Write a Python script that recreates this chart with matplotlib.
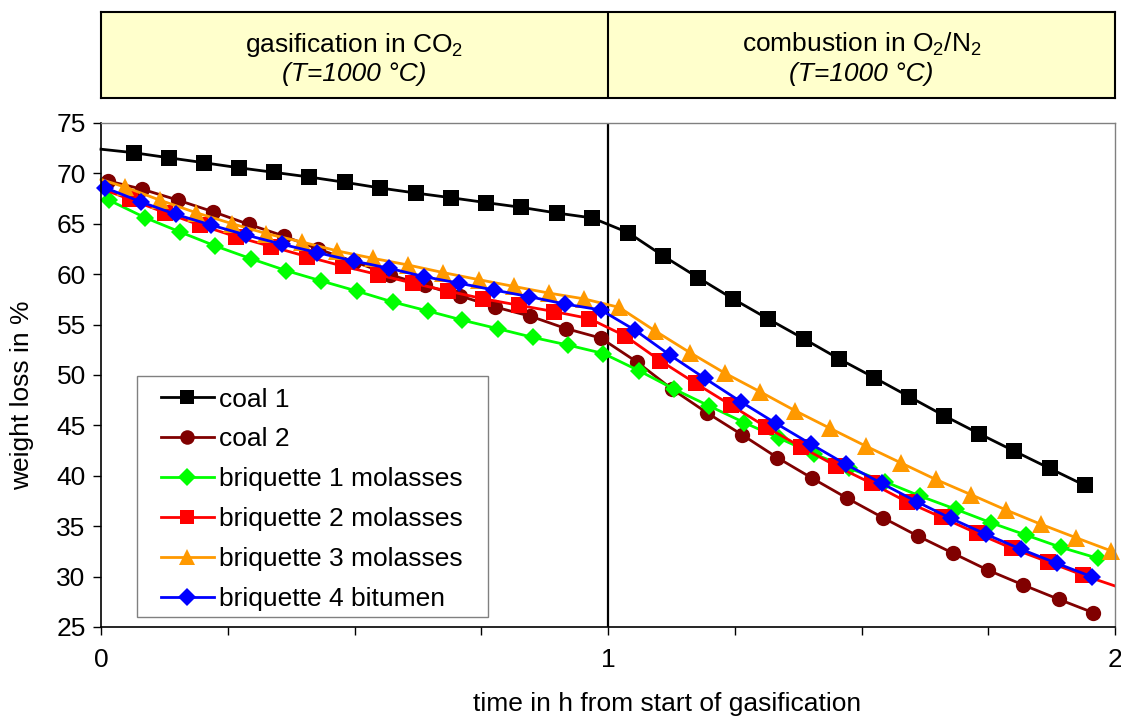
import matplotlib
matplotlib.use('Agg')
import matplotlib.pyplot as plt
from matplotlib.patches import Rectangle
from matplotlib.ticker import MultipleLocator

plt.rcParams['font.family'] = ['Liberation Sans', 'DejaVu Sans']
plt.rcParams['mathtext.default'] = 'regular'

# --- data (time in h, weight loss in %) ---
coal1_t = [0, 0.065, 0.134, 0.203, 0.272, 0.342, 0.411, 0.482, 0.551, 0.621, 0.690, 0.760, 0.829, 0.899, 0.969,
           1.040, 1.109, 1.178, 1.247, 1.316, 1.387, 1.455, 1.525, 1.594, 1.663, 1.732, 1.801, 1.871, 1.940]
coal1_v = [72.4, 72.05, 71.55, 71.06, 70.56, 70.10, 69.64, 69.11, 68.55, 68.05, 67.59, 67.10, 66.63, 66.07, 65.58,
           64.12, 61.81, 59.65, 57.54, 55.56, 53.57, 51.62, 49.74, 47.85, 45.96, 44.18, 42.46, 40.74, 39.06]

coal2_t = [0.014, 0.080, 0.151, 0.221, 0.291, 0.360, 0.428, 0.499, 0.570, 0.640, 0.708, 0.777, 0.847, 0.917, 0.986,
           1.058, 1.126, 1.195, 1.265, 1.334, 1.403, 1.472, 1.542, 1.611, 1.681, 1.749, 1.819, 1.889, 1.957]
coal2_v = [69.25, 68.45, 67.36, 66.20, 64.95, 63.80, 62.50, 61.25, 59.95, 58.88, 57.85, 56.75, 55.83, 54.61, 53.66,
           51.26, 48.61, 46.26, 44.05, 41.80, 39.75, 37.77, 35.85, 34.03, 32.31, 30.65, 29.17, 27.75, 26.42]

briq1_t = [0.015, 0.087, 0.156, 0.225, 0.295, 0.365, 0.434, 0.505, 0.575, 0.644, 0.713, 0.783, 0.852, 0.922, 0.991,
           1.061, 1.130, 1.200, 1.269, 1.338, 1.407, 1.476, 1.546, 1.615, 1.686, 1.755, 1.824, 1.893, 1.966]
briq1_v = [67.36, 65.61, 64.19, 62.81, 61.55, 60.36, 59.34, 58.32, 57.25, 56.36, 55.44, 54.59, 53.73, 52.96, 52.13,
           50.43, 48.61, 46.92, 45.27, 43.72, 42.16, 40.74, 39.42, 38.00, 36.68, 35.35, 34.13, 32.91, 31.82]

briq2_t = [0, 0.057, 0.126, 0.195, 0.266, 0.336, 0.406, 0.477, 0.547, 0.616, 0.685, 0.754, 0.824, 0.894, 0.963,
           1.034, 1.103, 1.173, 1.242, 1.311, 1.380, 1.450, 1.520, 1.589, 1.658, 1.728, 1.797, 1.867, 1.936, 2.0]
briq2_v = [68.5, 67.43, 66.11, 64.88, 63.73, 62.74, 61.75, 60.80, 59.95, 59.10, 58.32, 57.56, 56.92, 56.29, 55.60,
           53.87, 51.42, 49.17, 47.02, 44.87, 42.89, 40.97, 39.25, 37.43, 35.88, 34.29, 32.80, 31.48, 30.16, 29.07]

briq3_t = [0, 0.047, 0.117, 0.187, 0.258, 0.326, 0.396, 0.466, 0.536, 0.605, 0.675, 0.745, 0.814, 0.883, 0.952,
           1.022, 1.093, 1.162, 1.231, 1.300, 1.369, 1.438, 1.508, 1.577, 1.646, 1.716, 1.785, 1.854, 1.923, 1.993]
briq3_v = [69.4, 68.65, 67.33, 66.11, 65.02, 64.03, 63.20, 62.31, 61.58, 60.92, 60.16, 59.46, 58.79, 58.13, 57.56,
           56.71, 54.37, 52.21, 50.17, 48.34, 46.46, 44.71, 42.96, 41.30, 39.65, 38.13, 36.61, 35.19, 33.86, 32.54]

briq4_t = [0.008, 0.078, 0.147, 0.217, 0.286, 0.357, 0.426, 0.499, 0.569, 0.638, 0.707, 0.775, 0.845, 0.915, 0.986,
           1.053, 1.122, 1.191, 1.262, 1.331, 1.400, 1.469, 1.540, 1.609, 1.676, 1.746, 1.815, 1.885, 1.954]
briq4_v = [68.58, 67.19, 65.94, 64.88, 63.89, 62.97, 62.15, 61.30, 60.58, 59.75, 59.10, 58.43, 57.77, 57.04, 56.45,
           54.46, 51.98, 49.67, 47.35, 45.21, 43.15, 41.14, 39.25, 37.43, 35.78, 34.19, 32.71, 31.32, 29.99]

labels = ['coal 1', 'coal 2', 'briquette 1 molasses', 'briquette 2 molasses',
          'briquette 3 molasses', 'briquette 4 bitumen']
phases = ['gasification in CO$_2$', 'combustion in O$_2$/N$_2$']
phase_temp = '(T=1000 °C)'

series = [(coal1_t, coal1_v), (coal2_t, coal2_v), (briq1_t, briq1_v),
          (briq2_t, briq2_v), (briq3_t, briq3_v), (briq4_t, briq4_v)]
colors = ['#000000', '#800000', '#00FF00', '#FF0000', '#FF9900', '#0000FF']
markers = ['s', 'o', 'D', 's', '^', 'D']
msizes = [11, 11, 9.5, 11, 12.5, 9.5]

fs = 19
fig = plt.figure(figsize=(11.21, 7.18), dpi=100)
ax = fig.add_axes([101 / 1121, 1 - 627 / 718, 1014 / 1121, 504 / 718])

for (t, v), lab, c, m, ms in zip(series, labels, colors, markers, msizes):
    # first/last points without a marker are only line ends
    idx = list(range(len(t)))
    if t[0] == 0:
        idx = idx[1:]
    if t[-1] >= 1.995:
        idx = idx[:-1]
    ax.plot(t, v, color=c, lw=2.0, marker=m, markersize=ms, markevery=idx,
            markeredgewidth=0, label=lab, clip_on=(c == '#FF0000'))

ax.axvline(1, color='black', lw=1.6, zorder=1)

ax.set_xlim(0, 2)
ax.set_ylim(25, 75)
ax.set_xticks([0, 1, 2])
ax.xaxis.set_minor_locator(MultipleLocator(0.25))
ax.yaxis.set_major_locator(MultipleLocator(5))
ax.tick_params(axis='both', which='both', direction='out', length=6, width=1, labelsize=fs)
ax.tick_params(axis='x', pad=9)
ax.tick_params(axis='y', pad=5)
for s in ['top', 'right']:
    ax.spines[s].set_color('#808080')
    ax.spines[s].set_linewidth(1)
for s in ['left', 'bottom']:
    ax.spines[s].set_linewidth(1.2)

ax.set_xlabel('time in h from start of gasification', fontsize=fs)
ax.xaxis.set_label_coords(0.558, -0.129)
ax.set_ylabel('weight loss in %', fontsize=fs)
ax.yaxis.set_label_coords(-0.066, 0.46)

# legend with a square grey frame
ax.add_patch(Rectangle((36 / 1014, 10 / 504), 351 / 1014, 241 / 504, transform=ax.transAxes,
                       facecolor='white', edgecolor='#808080', lw=1, zorder=3))
leg = ax.legend(loc='upper left', bbox_to_anchor=(0.0589, 0.475), frameon=False, fontsize=fs,
                borderpad=0, borderaxespad=0, handlelength=2.0, handletextpad=0.2,
                labelspacing=0.6, markerscale=0.95)
leg.set_zorder(4)

# header with the two phases
hx = fig.add_axes([101 / 1121, 1 - 98.3 / 718, 1014 / 1121, 86.6 / 718])
hx.set_facecolor('#FFFFCC')
hx.set_xlim(0, 2)
hx.set_ylim(0, 1)
hx.set_xticks([])
hx.set_yticks([])
hx.axvline(1, color='black', lw=1.5)
for s in hx.spines.values():
    s.set_linewidth(1.5)
for i, p in enumerate(phases):
    hx.text(0.5 + i, 0.62, p, ha='center', va='center', fontsize=fs)
    hx.text(0.5 + i, 0.28, phase_temp, ha='center', va='center', fontsize=fs, style='italic')

fig.savefig('out.png', dpi=100)
